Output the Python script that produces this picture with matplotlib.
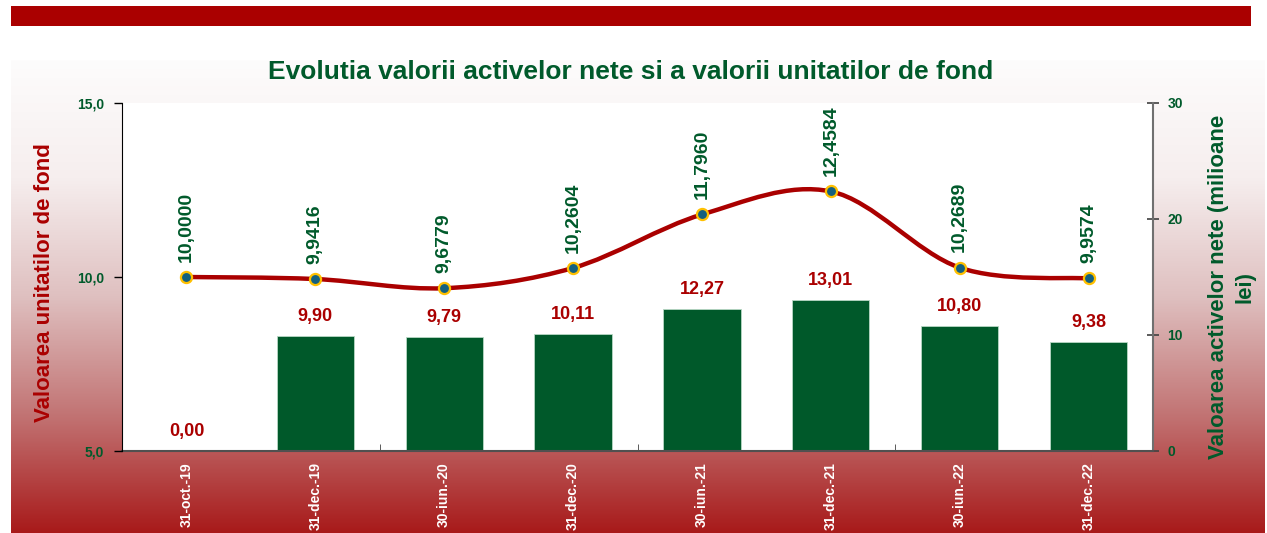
import matplotlib
matplotlib.use("Agg")
import matplotlib.pyplot as plt
import numpy as np
from matplotlib.path import Path
from matplotlib.patches import PathPatch, Rectangle
from matplotlib.colors import LinearSegmentedColormap

categories = ["31-oct.-19", "31-dec.-19", "30-iun.-20", "31-dec.-20",
              "30-iun.-21", "31-dec.-21", "30-iun.-22", "31-dec.-22"]
unit_values = [10.0000, 9.9416, 9.6779, 10.2604, 11.7960, 12.4584, 10.2689, 9.9574]
unit_labels = ["10,0000", "9,9416", "9,6779", "10,2604", "11,7960", "12,4584", "10,2689", "9,9574"]
net_assets = [0.00, 9.90, 9.79, 10.11, 12.27, 13.01, 10.80, 9.38]
net_labels = ["0,00", "9,90", "9,79", "10,11", "12,27", "13,01", "10,80", "9,38"]
left_ticks = [5, 10, 15]
left_tick_labels = ["5,0", "10,0", "15,0"]
right_ticks = [0, 10, 20, 30]
right_tick_labels = ["0", "10", "20", "30"]

title = "Evolutia valorii activelor nete si a valorii unitatilor de fond"
left_label = "Valoarea unitatilor de fond"
right_label = "Valoarea activelor nete (milioane\nlei)"

RED = "#AA0000"
GREEN = "#005A2B"
BAR = "#00592A"
FONT = ["Liberation Sans Narrow", "Liberation Sans", "DejaVu Sans"]
plt.rcParams["font.family"] = FONT
plt.rcParams["font.weight"] = "bold"

W, H = 1267, 533
fig = plt.figure(figsize=(W / 100, H / 100), dpi=100)
fig.patch.set_facecolor("white")

# top banner
fig.patches.append(Rectangle((11 / W, 1 - 26 / H), (1251 - 11) / W, 20 / H,
                             transform=fig.transFigure, facecolor=RED,
                             edgecolor="none", zorder=0))

# gradient panel
gax = fig.add_axes([11 / W, 0, (1265 - 11) / W, 1 - 60 / H], zorder=-5)
cmap = LinearSegmentedColormap.from_list(
    "grad", [(0.0, "#FDFCFC"), (0.25, "#F6EEEE"), (0.5, "#DFC0C0"),
             (0.75, "#C27474"), (1.0, "#A81A1A")])
gax.imshow(np.linspace(0, 1, 256).reshape(-1, 1), aspect="auto", cmap=cmap,
           extent=[0, 1, 0, 1], origin="upper")
gax.set_axis_off()

rect = [122 / W, 1 - 451 / H, (1153 - 122) / W, (451 - 103) / H]
ax = fig.add_axes(rect)  # bars, right scale
ax.set_facecolor("white")
ax2 = ax.twinx()         # line, left scale

x = np.arange(len(categories))
ax.bar(x, net_assets, width=0.6, color=BAR, edgecolor="#B8D8C4", linewidth=0.6, zorder=2)
ax.set_xlim(-0.5, len(categories) - 0.5)
ax.set_ylim(0, 30)
ax.yaxis.tick_right()
ax.set_yticks(right_ticks)
ax.set_yticklabels(right_tick_labels)
ax.tick_params(axis="y", direction="inout", length=9, width=1.2, colors="#404040",
               labelcolor=GREEN, labelsize=10, pad=6)
for v, lab in zip(x, net_labels):
    ax.annotate(lab, (v, net_assets[v]), xytext=(0, 8), textcoords="offset points",
                ha="center", va="bottom", color=RED, fontsize=13, fontweight="bold")

ax.set_xticks(x)
ax.set_xticklabels(categories, rotation=90, color="white", fontsize=10, fontweight="bold")
ax.set_xticks([-0.5, 1.5, 3.5, 5.5], minor=True)
ax.tick_params(axis="x", which="major", length=0, pad=8)
ax.tick_params(axis="x", which="minor", length=5, direction="in", color="#404040")
for s in ["top", "left"]:
    ax.spines[s].set_visible(False)
ax.spines["right"].set_color("#707070")
ax.spines["right"].set_linewidth(1.5)
ax.spines["bottom"].set_color("#505050")
ax.spines["bottom"].set_linewidth(1.5)

ax2.yaxis.tick_left()
ax2.set_ylim(5, 15)
ax2.set_yticks(left_ticks)
ax2.set_yticklabels(left_tick_labels)
ax2.tick_params(axis="y", direction="out", length=6, width=1, colors="black",
                labelcolor=GREEN, labelsize=10, pad=7)
for s in ["top", "right", "bottom"]:
    ax2.spines[s].set_visible(False)
ax2.spines["left"].set_color("black")

# axis titles
fig.text(45 / W, 1 - 283 / H, left_label, rotation=90, ha="center", va="center",
         color=RED, fontsize=16, fontweight="bold")
fig.text(1232 / W, 1 - 287 / H, right_label, rotation=90, ha="center", va="center",
         multialignment="center", color=GREEN, fontsize=16, fontweight="bold",
         linespacing=1.35)

# smoothed line (Catmull-Rom style Bezier through the points)
pts = np.column_stack([x, unit_values]).astype(float)
n = len(pts)
verts = [pts[0]]
codes = [Path.MOVETO]
for i in range(n - 1):
    p0 = pts[i - 1] if i > 0 else pts[i]
    p1 = pts[i]
    p2 = pts[i + 1]
    p3 = pts[i + 2] if i + 2 < n else pts[i + 1]
    c1 = p1 + (p2 - p0) / 6.0
    c2 = p2 - (p3 - p1) / 6.0
    verts += [c1, c2, p2]
    codes += [Path.CURVE4] * 3
ax2.add_patch(PathPatch(Path(verts, codes), facecolor="none", edgecolor=RED,
                        linewidth=3.2, zorder=3, capstyle="round"))
ax2.plot(x, unit_values, linestyle="none", marker="o", markersize=8,
         markerfacecolor="#14607F", markeredgecolor="#FFC000", markeredgewidth=1.6, zorder=4)
for v, lab in zip(x, unit_labels):
    ax2.annotate(lab, (v, unit_values[v]), xytext=(0, 11), textcoords="offset points",
                 ha="center", va="bottom", rotation=90, color=GREEN,
                 fontsize=14, fontweight="bold")

fig.text(631 / W, 1 - 72 / H, title, ha="center", va="center", color=GREEN,
         fontsize=19, fontweight="bold")

fig.savefig("out.png", dpi=100)
